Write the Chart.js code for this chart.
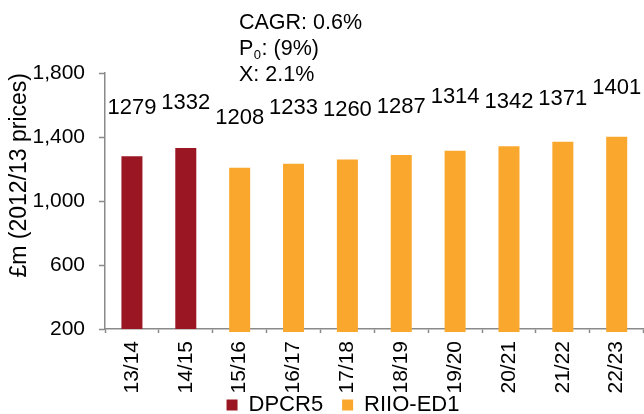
<!DOCTYPE html>
<html>
<head>
<meta charset="utf-8">
<script src="https://cdn.jsdelivr.net/npm/chart.js@4/dist/chart.umd.min.js"></script>
<style>
  html, body { margin: 0; padding: 0; background: #fff; overflow: hidden; }
  #wrap { width: 650px; height: 445px; position: relative; }
</style>
</head>
<body>
<div id="wrap"><canvas id="c"></canvas></div>
<script>
// Regulated spend, £m in 2012/13 prices, by regulatory year
const years   = ['13/14', '14/15', '15/16', '16/17', '17/18', '18/19', '19/20', '20/21', '21/22', '22/23'];
const dpcr5   = [1279, 1332, null, null, null, null, null, null, null, null];
const riioEd1 = [null, null, 1208, 1233, 1260, 1287, 1314, 1342, 1371, 1401];
const yTicks  = [200, 600, 1000, 1400, 1800];

// Headline figures shown above the bars
const cagr = '0.6%';
const p0   = '(9%)';
const xVal = '2.1%';

const FONT = "'Liberation Sans', Arial, sans-serif";
const AXIS = '#8a8a8a';

// Value labels above each bar (lift = distance above bar top, px)
const valueLabels = {
  id: 'valueLabels',
  afterDatasetsDraw(chart, args, opts) {
    const ctx = chart.ctx;
    ctx.save();
    ctx.font = `22px ${FONT}`;
    ctx.fillStyle = '#000';
    ctx.textAlign = 'center';
    ctx.textBaseline = 'middle';
    chart.data.datasets.forEach((ds, di) => {
      const meta = chart.getDatasetMeta(di);
      meta.data.forEach((bar, i) => {
        const v = ds.data[i];
        if (v == null) return;
        ctx.fillText(String(v), bar.x, bar.y - opts.lift[i]);
      });
    });
    ctx.restore();
  }
};

// Headline block: CAGR, P0 and X
const headline = {
  id: 'headline',
  afterDraw(chart) {
    const ctx = chart.ctx;
    ctx.save();
    ctx.fillStyle = '#000';
    ctx.textAlign = 'left';
    ctx.textBaseline = 'middle';
    const x = 239;
    ctx.font = `21.5px ${FONT}`;
    ctx.fillText('CAGR: ' + cagr, x, 23);
    ctx.fillText('P', x, 49);
    const pw = ctx.measureText('P').width;
    ctx.font = `13px ${FONT}`;
    ctx.fillText('0', x + pw + 0.5, 55);
    const sw = ctx.measureText('0').width;
    ctx.font = `21.5px ${FONT}`;
    ctx.fillText(': ' + p0, x + pw + sw + 1, 49);
    ctx.fillText('X: ' + xVal, x, 75);
    ctx.restore();
  }
};

// Move the legend row so it sits under the middle of the bars, close to the labels
const legendShift = {
  id: 'legendShift',
  afterLayout(chart, args, opts) {
    const lg = chart.legend;
    if (lg) {
      lg.left += opts.dx; lg.right += opts.dx;
      lg.top += opts.dy; lg.bottom += opts.dy;
    }
  }
};

new Chart(document.getElementById('c'), {
  type: 'bar',
  data: {
    labels: years,
    datasets: [
      {
        label: 'DPCR5',
        data: dpcr5,
        backgroundColor: '#9a1622',
        borderWidth: 0,
        grouped: false,
        barPercentage: 0.39,
        categoryPercentage: 1
      },
      {
        label: 'RIIO-ED1',
        data: riioEd1,
        backgroundColor: '#faa82d',
        borderWidth: 0,
        grouped: false,
        barPercentage: 0.39,
        categoryPercentage: 1,
        base: 182,
        clip: false
      }
    ]
  },
  options: {
    responsive: true,
    maintainAspectRatio: false,
    animation: false,
    events: [],
    layout: { padding: { top: 73, left: 0, right: 2, bottom: 0 } },
    scales: {
      x: {
        grid: {
          offset: true,
          drawOnChartArea: false,
          drawTicks: true,
          tickLength: 4,
          tickColor: AXIS,
          tickWidth: 1.5
        },
        border: { display: true, color: AXIS, width: 1.5 },
        ticks: {
          autoSkip: false,
          minRotation: 90,
          maxRotation: 90,
          padding: 8,
          color: '#000',
          font: { family: FONT, size: 21 }
        },
        afterFit(scale) { scale.height = 65; }
      },
      y: {
        min: 200,
        max: 1800,
        afterBuildTicks(scale) { scale.ticks = yTicks.map(v => ({ value: v })); },
        grid: {
          drawOnChartArea: false,
          drawTicks: true,
          tickLength: 6,
          tickColor: AXIS,
          tickWidth: 1.5
        },
        border: { display: true, color: AXIS, width: 1.5 },
        ticks: {
          padding: 14,
          color: '#000',
          font: { family: FONT, size: 21 },
          callback: v => v.toLocaleString('en-US')
        },
        title: {
          display: true,
          text: '£m (2012/13 prices)',
          align: 'end',
          color: '#000',
          font: { family: FONT, size: 23, lineHeight: 1 },
          padding: { top: 8, bottom: 0 }
        },
        afterFit(scale) { scale.width = 105; }
      }
    },
    plugins: {
      legend: {
        position: 'bottom',
        labels: {
          boxWidth: 11,
          boxHeight: 11,
          padding: 19,
          color: '#000',
          font: { family: FONT, size: 22 }
        }
      },
      tooltip: { enabled: false },
      valueLabels: { lift: [48, 45, 50, 56, 49, 48, 54, 44, 43, 49] },
      legendShift: { dx: 19, dy: -19 }
    }
  },
  plugins: [valueLabels, headline, legendShift]
});
</script>
</body>
</html>
